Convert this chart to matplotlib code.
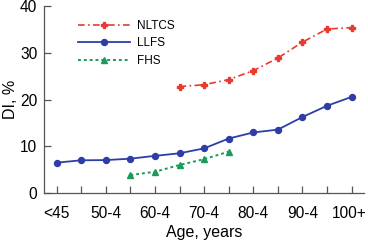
import numpy as np
import matplotlib
matplotlib.use("Agg")
from matplotlib import pyplot as plt
from matplotlib import transforms

# age groups on the x axis, only every other one gets a label
ageGroups = ["<45", "45-9", "50-4", "55-9", "60-4", "65-9", "70-4",
             "75-9", "80-4", "85-9", "90-4", "95-9", "100+"]

# DI, % per study
nltcsX = ageGroups[5:]
nltcs = [22.8, 23.2, 24.3, 26.2, 28.9, 32.3, 35.1, 35.4]

llfsX = ageGroups
llfs = [6.55, 7.05, 7.1, 7.4, 8.0, 8.55, 9.6, 11.7, 13.0, 13.6, 16.3, 18.7, 20.6]

fhsX = ageGroups[3:8]
fhs = [3.9, 4.6, 6.05, 7.3, 8.9]

plt.rcParams['font.family'] = ['Liberation Sans', 'DejaVu Sans']

fig = plt.figure(figsize=(3.68, 2.43), dpi=100)
ax = fig.add_axes([0.1204, 0.2045, 0.989 - 0.1204, 0.975 - 0.2045])

pos = {g: i for i, g in enumerate(ageGroups)}

def xs(groups):
    return [pos[g] for g in groups]

ax.plot(xs(nltcsX), nltcs, color="#e83a2e", linestyle=(0, (4, 2, 1, 2)), lw=1.2,
        marker="P", markersize=4, label="NLTCS")
ax.plot(xs(llfsX), llfs, color="#2e3ea6", linestyle="-", lw=1.3,
        marker="o", markersize=4.3, label="LLFS")
ax.plot(xs(fhsX), fhs, color="#1d9a5c", linestyle=(0, (1.5, 1.5)), lw=1.4,
        marker="^", markersize=4, label="FHS")

ax.set_xlim(-0.5, 12.5)
ax.set_ylim(0, 40)
ax.set_xticks(range(len(ageGroups)))
ax.set_xticklabels([g if i % 2 == 0 else "" for i, g in enumerate(ageGroups)])
ax.set_yticks([0, 10, 20, 30, 40])

for s in ["top", "right"]:
    ax.spines[s].set_visible(False)
for s in ["left", "bottom"]:
    ax.spines[s].set_color("#555555")
    ax.spines[s].set_linewidth(0.9)

ax.tick_params(direction="in", length=5, width=0.9, color="#555555",
               labelsize=11.2)
ax.tick_params(axis="x", pad=9)
ax.tick_params(axis="y", pad=5)

# nudge "100+" a little so it stays inside the figure
last = ax.get_xticklabels()[-1]
last.set_transform(last.get_transform() + transforms.ScaledTranslation(-2.5 / 100, 0, fig.dpi_scale_trans))

ax.set_xlabel("Age, years", fontsize=11.5, labelpad=3)
ax.set_ylabel("DI, %", fontsize=11.5)
ax.yaxis.set_label_coords(-0.083, 0.5)

ax.legend(loc="upper left", bbox_to_anchor=(0.091, 0.95), frameon=False,
          borderaxespad=0, fontsize=8.5, handlelength=4.4, handletextpad=0.55,
          labelspacing=0.45)

fig.savefig("out.png", dpi=100)
